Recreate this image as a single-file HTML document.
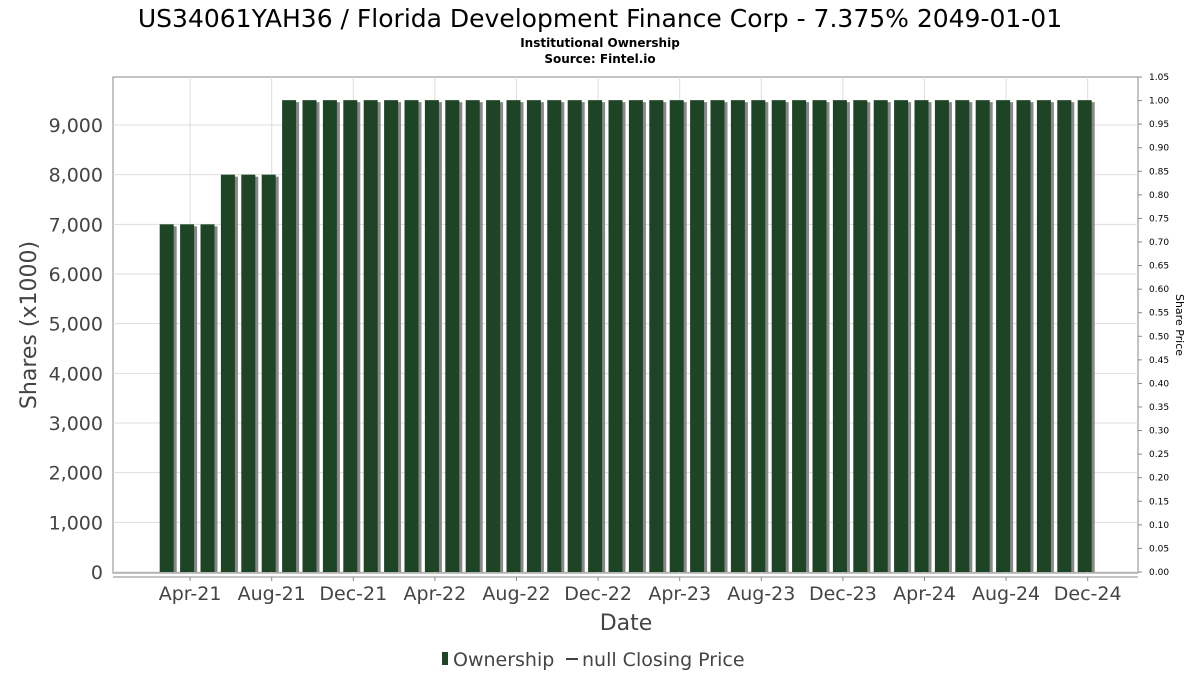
<!DOCTYPE html>
<html><head><meta charset="utf-8"><style>
body{margin:0;background:#fff;font-family:"DejaVu Sans","Liberation Sans",sans-serif;}
</style></head><body>
<svg id="chart" width="1200" height="675" xmlns="http://www.w3.org/2000/svg" font-family="DejaVu Sans, Liberation Sans, sans-serif">
<text x="600" y="27" text-anchor="middle" font-size="25" fill="#000">US34061YAH36 / Florida Development Finance Corp - 7.375% 2049-01-01</text>
<text x="600" y="47" text-anchor="middle" font-size="12" font-weight="bold" fill="#000">Institutional Ownership</text>
<text x="600" y="63" text-anchor="middle" font-size="12" font-weight="bold" fill="#000">Source: Fintel.io</text>
<rect x="113" y="77" width="1025" height="496" fill="#fff" stroke="#888"/>
<g id="grid"></g><g id="bars"></g><g id="axes"></g>
<text transform="translate(36,325) rotate(-90)" text-anchor="middle" font-size="22" fill="#444">Shares (x1000)</text>
<text transform="translate(1176,325) rotate(90)" text-anchor="middle" font-size="11" fill="#000">Share Price</text>
<text x="626" y="630" text-anchor="middle" font-size="22" fill="#444">Date</text>
<g>
<rect x="442" y="652" width="6" height="13" fill="#1c4425"/>
<text x="453" y="666" font-size="19" fill="#444">Ownership</text>
<line x1="566" y1="659" x2="578" y2="659" stroke="#444" stroke-width="2"/>
<text x="582" y="666" font-size="19" fill="#444">null Closing Price</text>
</g>
</svg>
<script>
const values=[7000,7000,7000,8000,8000,8000,9500,9500,9500,9500,9500,9500,9500,9500,9500,9500,9500,9500,9500,9500,9500,9500,9500,9500,9500,9500,9500,9500,9500,9500,9500,9500,9500,9500,9500,9500,9500,9500,9500,9500,9500,9500,9500,9500,9500,9500];
const yTicks=[0,1000,2000,3000,4000,5000,6000,7000,8000,9000];
const y2Ticks=[0,0.05,0.1,0.15,0.2,0.25,0.3,0.35,0.4,0.45,0.5,0.55,0.6,0.65,0.7,0.75,0.8,0.85,0.9,0.95,1.0,1.05];
const xTickLabels=["Apr-21","Aug-21","Dec-21","Apr-22","Aug-22","Dec-22","Apr-23","Aug-23","Dec-23","Apr-24","Aug-24","Dec-24"];
const xTickIndex=[1,5,9,13,17,21,25,29,33,37,41,45];
const NS="http://www.w3.org/2000/svg";
const y=v=>572-v*(447/9000);
const y2=v=>572-v*(495/1.05);
const x=i=>166.7+i*20.4;
function mk(t,a,p){const e=document.createElementNS(NS,t);for(const k in a)e.setAttribute(k,a[k]);p.appendChild(e);return e;}
const grid=document.getElementById('grid'),bars=document.getElementById('bars'),axes=document.getElementById('axes');
yTicks.forEach(v=>{
 const l=mk('line',{x1:113,x2:1138,y1:y(v),y2:y(v),stroke:'#ddd'},grid);
 
 
 const t=mk('text',{x:103,y:y(v)+7,'text-anchor':'end','font-size':19,fill:'#444'},axes);
 
 
 t.textContent=v.toLocaleString('en-US');
});
y2Ticks.forEach(v=>{
 mk('line',{x1:1138,x2:1142,y1:y2(v),y2:y2(v),stroke:'#888'},axes);
 const t=mk('text',{x:1149,y:y2(v)+3,'font-size':9,fill:'#000'},axes);
 
 
 t.textContent=v.toFixed(2);
});
mk('line',{x1:113,x2:1138,y1:577,y2:577,stroke:'#888'},axes);
xTickLabels.forEach((s,k)=>{
 const cx=x(xTickIndex[k])+3;
 const g=mk('line',{x1:cx,x2:cx,y1:77,y2:573,stroke:'#ddd'},grid);
 
 
 mk('line',{x1:cx,x2:cx,y1:577,y2:581,stroke:'#888'},axes);
 const t=mk('text',{x:cx,y:600,'text-anchor':'middle','font-size':19,fill:'#444'},axes);
 
 
 t.textContent=s;
});
values.forEach((v,i)=>{
 const l=x(i)-7;
 mk('rect',{x:l+3,y:y(v)+2,width:14,height:572-y(v)-2,fill:'#888'},bars);
 const r=mk('rect',{x:l,y:y(v),width:14,height:572-y(v),fill:'#1c4425'},bars);
 
 
});
</script>
</body></html>
